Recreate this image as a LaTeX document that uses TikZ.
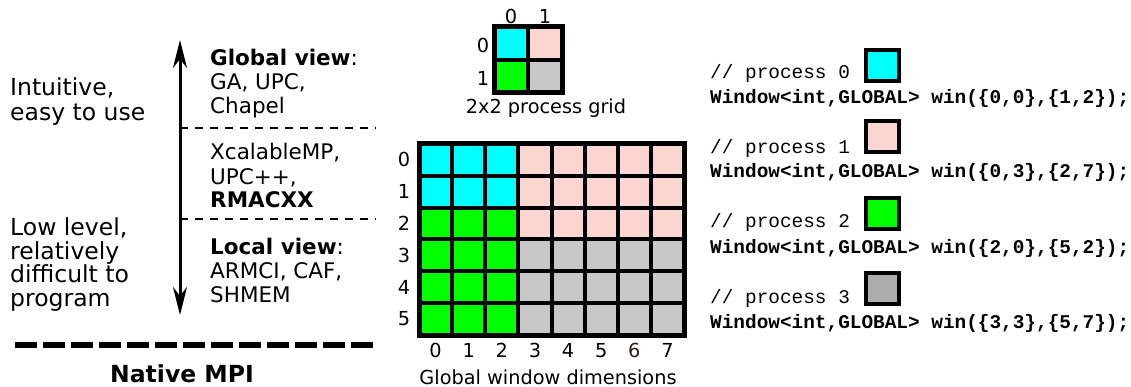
\documentclass[tikz,border=0pt]{standalone}
\usepackage{fontspec}
\setmainfont{DejaVu Sans}
\newfontfamily\codefont{Liberation Mono}
\usetikzlibrary{arrows.meta}
\definecolor{pcyan}{RGB}{0,255,255}
\definecolor{ppink}{RGB}{251,213,208}
\definecolor{pgreen}{RGB}{0,255,0}
\definecolor{pgray}{RGB}{200,200,200}
\definecolor{lgray}{RGB}{172,172,172}
\definecolor{darkbrown}{RGB}{50,30,20}
\begin{document}
\begin{tikzpicture}[x=1pt,y=-1pt,
  lefttxt/.style={anchor=base west,inner sep=0,align=left,font=\fontsize{23.5}{24.5}\selectfont},
  midtxt/.style={anchor=base west,inner sep=0,align=left,font=\fontsize{21.5}{24}\selectfont},
  lbl/.style={inner sep=0,font=\fontsize{19.3}{22}\selectfont},
  codetxt/.style={anchor=base west,inner sep=0,font=\codefont\fontsize{19.4}{20}\selectfont},
  legbox/.style={draw=black,line width=4pt,minimum width=33pt,minimum height=31pt,inner sep=0},
  gridline/.style={line width=4pt},
  gridborder/.style={line width=5pt},
  thindash/.style={line width=1.5pt,dash pattern=on 8pt off 7pt},
  thickdash/.style={line width=6pt,dash pattern=on 22pt off 6pt}
]
\useasboundingbox (0,0) rectangle (1131,387);

% ---------- left part ----------
% anchor = baseline of the last line
\node[lefttxt] (intuitive) at (10,120.5) {Intuitive,\\easy to use};
\node[lefttxt,font=\fontsize{23.5}{23.5}\selectfont] (lowlevel) at (10,306) {Low level,\\relatively\\difficult to\\program};

\coordinate (atop) at (180,40);
\coordinate (abot) at (180,315);
\draw[line width=3pt,{Stealth[length=28pt,width=14pt]}-{Stealth[length=28pt,width=14pt]}] (abot) -- (atop);

\node[midtxt] (global) at (210,114) {\textbf{Global view}:\\GA, UPC,\\Chapel};
\node[midtxt] (middle) at (210,208) {XcalableMP,\\UPC++,\\\textbf{RMACXX}};
\node[midtxt] (local) at (210,302) {\textbf{Local view}:\\ARMCI, CAF,\\SHMEM};

\coordinate (d1a) at (180,128);
\coordinate (d1b) at (376,128);
\coordinate (d2a) at (180,219);
\coordinate (d2b) at (376,219);
\draw[thindash] (d1a) -- (d1b);
\draw[thindash] (d2a) -- (d2b);

\coordinate (mpia) at (15,345);
\coordinate (mpib) at (378,345);
\draw[thickdash] (mpia) -- (mpib);
\node[anchor=base,inner sep=0,font=\fontsize{23.5}{24}\selectfont\bfseries] (native) at (182,382) {Native MPI};

% ---------- small process grid ----------
\fill[pcyan]  (494,27) rectangle (528,60);
\fill[ppink]  (528,27) rectangle (562,60);
\fill[pgreen] (494,60) rectangle (528,93);
\fill[pgray]  (528,60) rectangle (562,93);
\draw[gridline] (528,27) -- (528,93);
\draw[gridline] (494,60) -- (562,60);
\draw[gridborder] (494,27) rectangle (562,93);
\node[lbl] (sc0) at (511,16.5) {0};
\node[lbl] (sc1) at (545,16.5) {1};
\node[lbl] (sr0) at (483,45) {0};
\node[lbl] (sr1) at (483,78) {1};
\node[lbl] (sgrid) at (546,108) {2x2 process grid};

% ---------- big global window ----------
\fill[pcyan]  (419,144) rectangle ({419+3*33.125},{144+2*31.83});
\fill[ppink]  ({419+3*33.125},144) rectangle (684,{144+3*31.83});
\fill[pgreen] (419,{144+2*31.83}) rectangle ({419+3*33.125},335);
\fill[pgray]  ({419+3*33.125},{144+3*31.83}) rectangle (684,335);
\foreach \i in {1,...,7} \draw[gridline] ({419+\i*33.125},144) -- ({419+\i*33.125},335);
\foreach \j in {1,...,5} \draw[gridline] (419,{144+\j*31.83}) -- (684,{144+\j*31.83});
\draw[gridborder] (419,144) rectangle (684,335);
\foreach \j in {0,...,5} \node[lbl] (r\j) at (404,{144+(\j+0.5)*31.83}) {\j};
\foreach \i in {0,1,2,3,4,5,7} \node[lbl] (c\i) at ({419+(\i+0.5)*33.125},350.5) {\i};
\node[lbl,text=darkbrown] (c6) at ({419+6.5*33.125},350.5) {6};
\node[lbl,anchor=base] (gwd) at (548,384) {Global window dimensions};

% ---------- code on the right ----------
\node[codetxt] (p0) at (710,79) {// process 0};
\node[codetxt] (w0) at (710,104) {\bfseries Window<int,GLOBAL> win(\{0,0\},\{1,2\});};
\node[legbox,fill=pcyan] (b0) at (882.5,66) {};
\node[codetxt] (p1) at (710,154) {// process 1};
\node[codetxt] (w1) at (710,178) {\bfseries Window<int,GLOBAL> win(\{0,3\},\{2,7\});};
\node[legbox,fill=ppink] (b1) at (882.5,137) {};
\node[codetxt] (p2) at (710,228) {// process 2};
\node[codetxt] (w2) at (710,253) {\bfseries Window<int,GLOBAL> win(\{2,0\},\{5,2\});};
\node[legbox,fill=pgreen] (b2) at (882.5,214) {};
\node[codetxt] (p3) at (710,303) {// process 3};
\node[codetxt] (w3) at (710,328) {\bfseries Window<int,GLOBAL> win(\{3,3\},\{5,7\});};
\node[legbox,fill=lgray] (b3) at (882.5,288) {};
\end{tikzpicture}
\end{document}
